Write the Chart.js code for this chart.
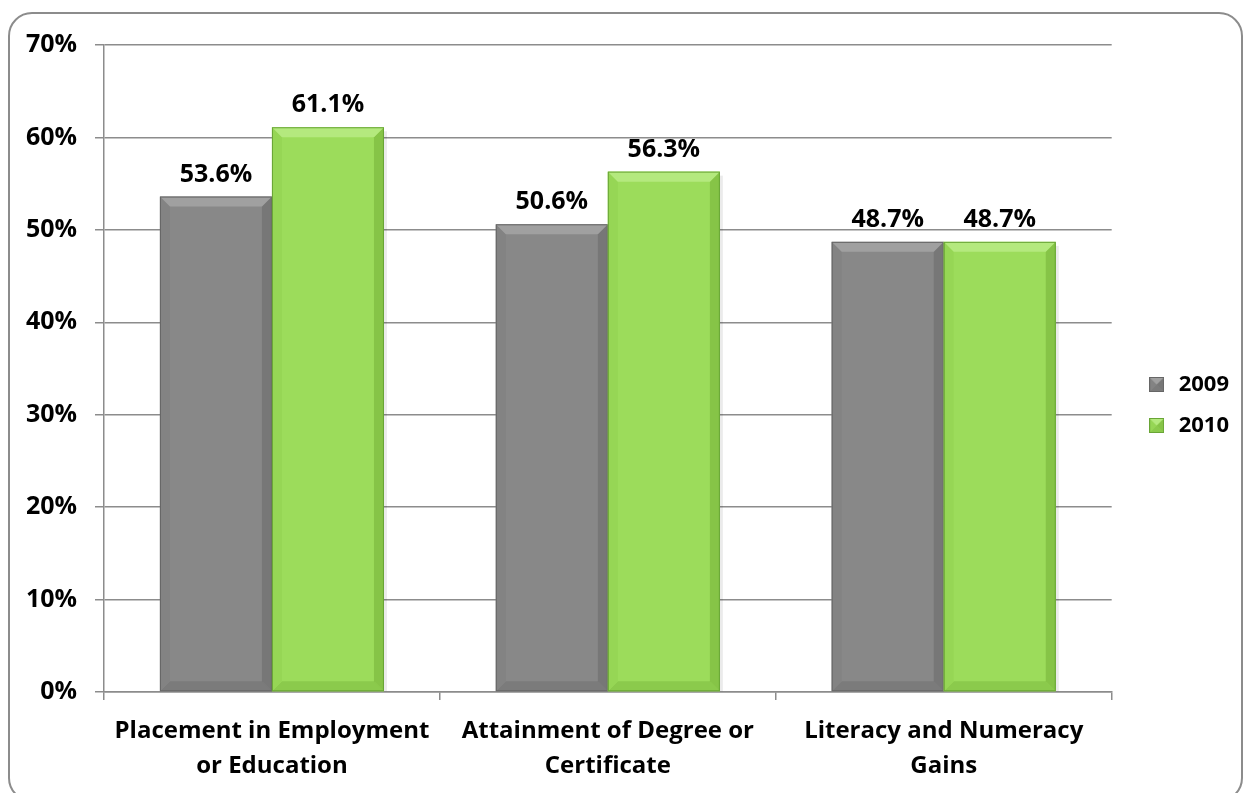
<!DOCTYPE html>
<html lang="en">
<head>
  <meta charset="UTF-8">
  <title>Outcome Rates 2009 vs 2010</title>
  <script src="https://cdn.jsdelivr.net/npm/chart.js"></script>
  <style>
    html, body {
      margin: 0;
      padding: 0;
      width: 1253px;
      height: 793px;
      background: #ffffff;
      overflow: hidden;
      font-family: 'Open Sans', 'Liberation Sans', sans-serif;
    }
    .frame {
      position: absolute;
      left: 8px;
      top: 12px;
      width: 1235px;
      height: 790px;
      border: 2px solid #8c8c8c;
      border-radius: 24px;
      box-sizing: border-box;
    }
    .chart-box {
      position: absolute;
      left: 0;
      top: 0;
      width: 1253px;
      height: 793px;
    }
  </style>
</head>
<body>
  <div class="frame"></div>
  <div class="chart-box">
    <canvas id="outcomeChart" width="1253" height="793"></canvas>
  </div>

  <script>
    const categories = [
      ['Placement in Employment', 'or Education'],
      ['Attainment of Degree or', 'Certificate'],
      ['Literacy and Numeracy', 'Gains']
    ];
    const years = ['2009', '2010'];
    const values2009 = [53.6, 50.6, 48.7];
    const values2010 = [61.1, 56.3, 48.7];
    const yTicks = [0, 10, 20, 30, 40, 50, 60, 70];

    const palette = {
      '2009': { face: '#888888', top: '#a0a0a0', left: '#838383', right: '#777777', bottom: '#7b7b7b', edge: '#666666' },
      '2010': { face: '#9cdc5b', top: '#b4e97e', left: '#96d655', right: '#86c447', bottom: '#8bca4c', edge: '#69a536' }
    };

    const FONT = "'Open Sans', 'Liberation Sans', sans-serif";

    function quad(ctx, pts, color) {
      ctx.fillStyle = color;
      ctx.beginPath();
      ctx.moveTo(pts[0], pts[1]);
      for (let k = 2; k < pts.length; k += 2) ctx.lineTo(pts[k], pts[k + 1]);
      ctx.closePath();
      ctx.fill();
    }

    // bevelled rectangle: face plus mitred edge bands
    function drawBevel(ctx, x, y, w, h, c, b) {
      b = Math.min(b, w / 2, h / 2);
      ctx.fillStyle = c.face;
      ctx.fillRect(x, y, w, h);
      quad(ctx, [x, y + h, x + w, y + h, x + w - b, y + h - b, x + b, y + h - b], c.bottom);
      quad(ctx, [x, y, x + b, y + b, x + b, y + h - b, x, y + h], c.left);
      quad(ctx, [x + w, y, x + w - b, y + b, x + w - b, y + h - b, x + w, y + h], c.right);
      quad(ctx, [x, y, x + w, y, x + w - b, y + b, x + b, y + b], c.top);
      ctx.strokeStyle = c.edge;
      ctx.lineWidth = 1;
      ctx.strokeRect(x + 0.5, y + 0.5, w - 1, h - 1);
    }

    function legendIcon(c) {
      const cv = document.createElement('canvas');
      cv.width = 15; cv.height = 15;
      drawBevel(cv.getContext('2d'), 0, 0, 15, 15, c, 7.5);
      return cv;
    }

    // paints the bars with the bevel look, then writes the values above them
    const bevelBars = {
      id: 'bevelBars',
      afterLayout(chart) {
        // keep the legend where it sits while the plot is narrowed by the right padding
        chart.legend.left += 15;
        chart.legend.right += 15;
        chart.legend.top -= 14;
        chart.legend.bottom -= 14;
      },
      afterDatasetsDraw(chart) {
        const ctx = chart.ctx;
        ctx.save();
        chart.data.datasets.forEach((ds, di) => {
          const meta = chart.getDatasetMeta(di);
          const c = palette[ds.label];
          meta.data.forEach((bar, i) => {
            const p = bar.getProps(['x', 'y', 'base', 'width'], true);
            const left = p.x - p.width / 2;
            const top = Math.min(p.y, p.base);
            const h = Math.abs(p.base - p.y);
            ctx.fillStyle = 'rgba(0,0,0,0.08)';
            ctx.fillRect(left + p.width, top + 4, 3, h - 4);
            drawBevel(ctx, left, top, p.width, h, c, 10);

            ctx.fillStyle = '#000000';
            ctx.font = 'bold 25px ' + FONT;
            ctx.textAlign = 'center';
            ctx.textBaseline = 'alphabetic';
            ctx.fillText(ds.data[i].toFixed(1) + '%', p.x, top - 15);
          });
        });
        ctx.restore();
      }
    };

    new Chart(document.getElementById('outcomeChart'), {
      type: 'bar',
      data: {
        labels: categories,
        datasets: [
          { label: years[0], data: values2009, backgroundColor: 'rgba(0,0,0,0)', borderWidth: 0 },
          { label: years[1], data: values2010, backgroundColor: 'rgba(0,0,0,0)', borderWidth: 0 }
        ]
      },
      options: {
        responsive: false,
        animation: false,
        devicePixelRatio: 1,
        categoryPercentage: 0.667,
        barPercentage: 1.0,
        layout: { padding: { top: 45, right: 29, left: 0, bottom: 0 } },
        scales: {
          x: {
            grid: {
              offset: true,
              drawOnChartArea: false,
              color: '#8c8c8c',
              lineWidth: 1.5,
              tickLength: 8
            },
            border: { color: '#8c8c8c', width: 1.5 },
            ticks: {
              color: '#000000',
              font: { family: FONT, size: 24, weight: 'bold', lineHeight: 1.45 },
              padding: 14,
              maxRotation: 0
            },
            afterFit(scale) { scale.height = 101; }
          },
          y: {
            min: 0,
            max: 70,
            afterBuildTicks(scale) { scale.ticks = yTicks.map(v => ({ value: v })); },
            grid: { color: '#8c8c8c', lineWidth: 1.5, tickLength: 9 },
            border: { color: '#8c8c8c', width: 1.5 },
            ticks: {
              color: '#000000',
              font: { family: FONT, size: 25, weight: 'bold' },
              padding: 18,
              callback: v => v + '%'
            },
            afterFit(scale) { scale.width = 104; }
          }
        },
        plugins: {
          legend: {
            position: 'right',
            align: 'center',
            labels: {
              usePointStyle: true,
              color: '#000000',
              font: { family: FONT, size: 22, weight: 'bold' },
              padding: 19,
              generateLabels(chart) {
                return chart.data.datasets.map((ds, i) => ({
                  text: ds.label,
                  pointStyle: legendIcon(palette[ds.label]),
                  datasetIndex: i,
                  hidden: false,
                  lineWidth: 0,
                  fontColor: '#000000'
                }));
              }
            }
          },
          tooltip: { enabled: false }
        }
      },
      plugins: [bevelBars]
    });
  </script>
</body>
</html>
